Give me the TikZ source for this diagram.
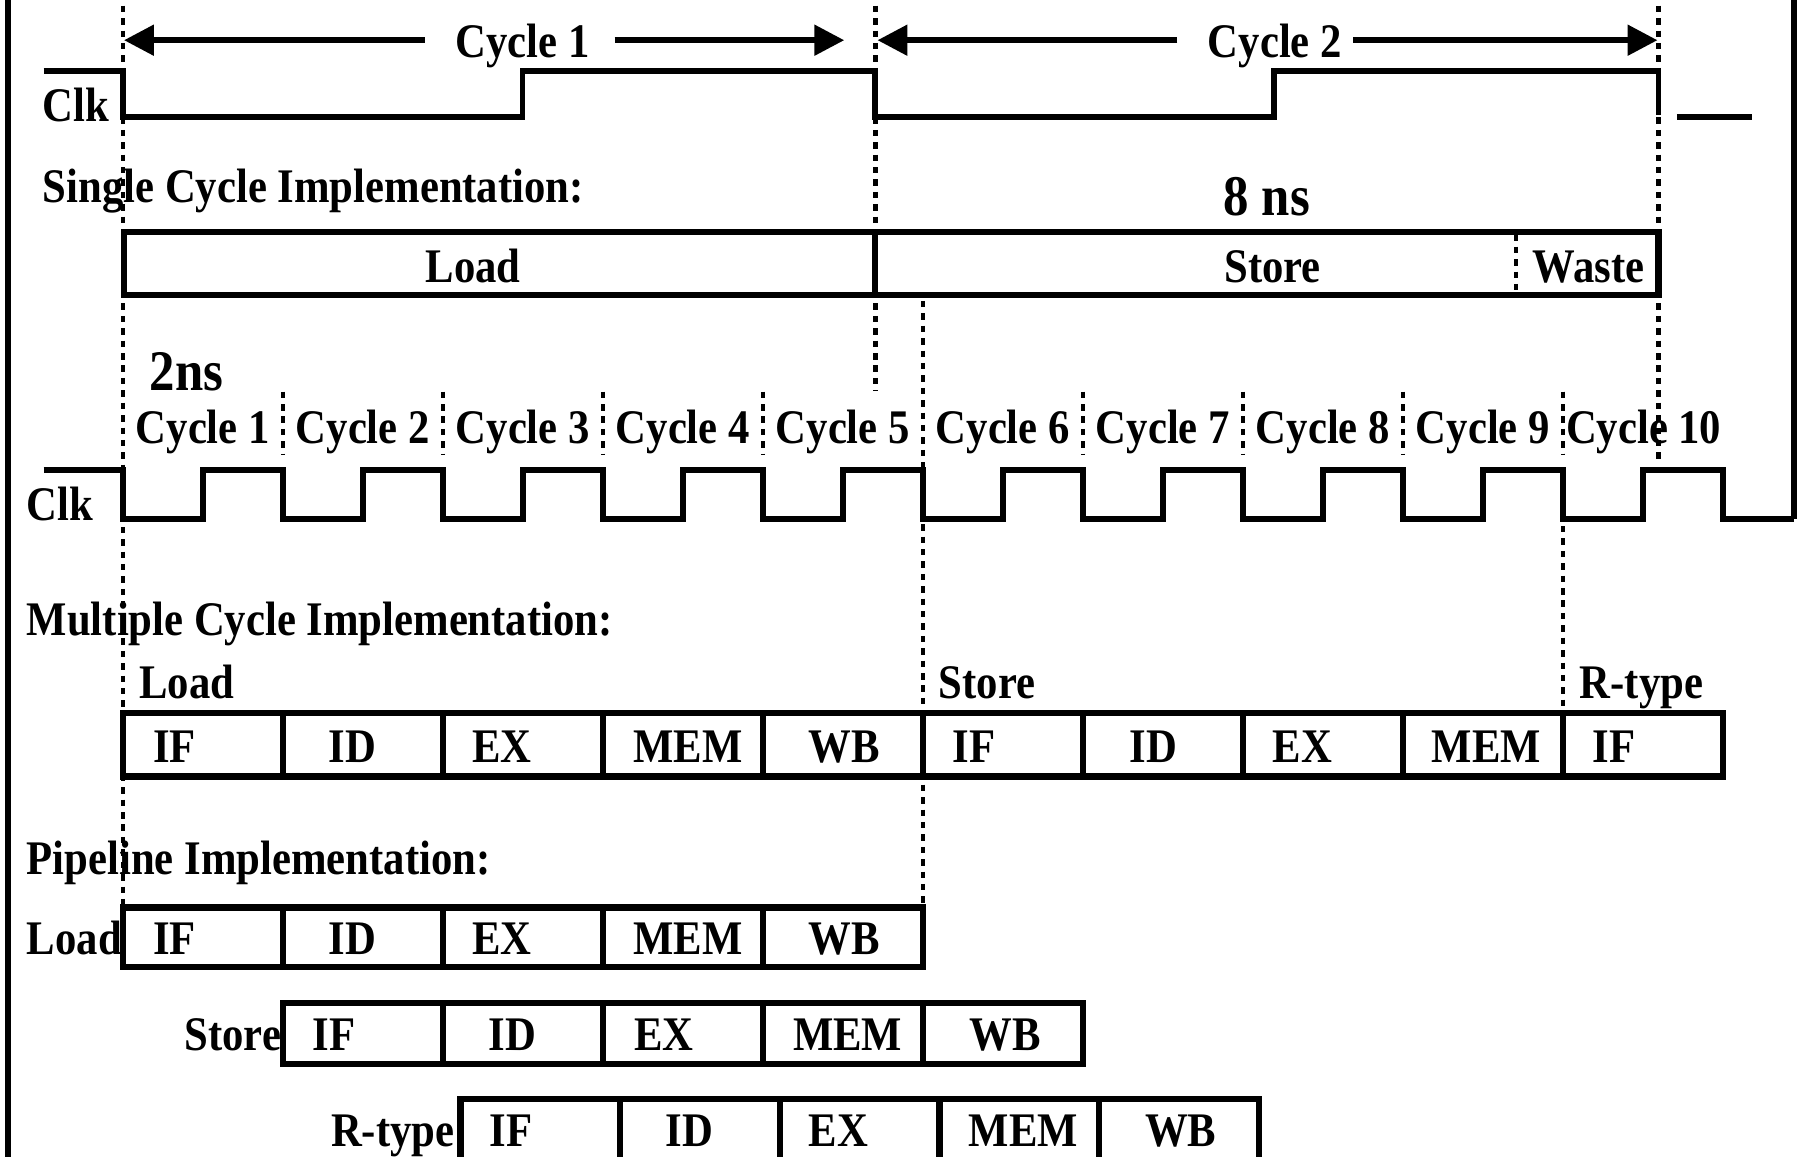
\documentclass[tikz,border=0pt]{standalone}
\usepackage{fontspec}
\setmainfont{Liberation Serif}[FakeStretch=0.885]
\usetikzlibrary{arrows.meta}
\begin{document}
\begin{tikzpicture}[x=0.5pt,y=-0.5pt,
  wave/.style={line width=2.4pt, line join=miter},
  box/.style={line width=2.7pt},
  dots/.style={line width=2pt, dash pattern=on 2.8pt off 2.6pt},
  arr/.style={line width=2.4pt, -{Triangle[length=13pt,width=13pt]}},
  lbl/.style={inner sep=0pt, font=\fontsize{21pt}{25pt}\selectfont\bfseries},
  big/.style={inner sep=0pt, font=\fontsize{25pt}{30pt}\selectfont\bfseries}]
\useasboundingbox (0,0) rectangle (1568,1007);
% borders
\draw[wave] (7,0) -- (7,1007);
\draw[wave] (1562,0) -- (1562,452);
% dotted guides
\draw[dots] (107,5) -- (107,790);
\draw[dots] (762,5) -- (762,340);
\draw[dots] (1444,5) -- (1444,400);
\draw[dots] (803.5,262) -- (803.5,790);
\draw[dots] (1360.7,458) -- (1360.7,618);
\foreach \k in {1,2,3,4,6,7,8,9} \draw[dots] ({107+139.3*\k},341) -- ({107+139.3*\k},396);
% top arrows
\coordinate (a1l) at (108,35); \coordinate (a1r) at (735,35);
\coordinate (a2l) at (764,35); \coordinate (a2r) at (1443,35);
\coordinate (c1w) at (370,35); \coordinate (c1e) at (535,35);
\coordinate (c2w) at (1025,35); \coordinate (c2e) at (1178,35);
\node[lbl, anchor=base] (cyc1) at (455,50) {Cycle 1};
\node[lbl, anchor=base] (cyc2) at (1110,50) {Cycle 2};
\draw[arr] (c1w) -- (a1l);
\draw[arr] (c1e) -- (a1r);
\draw[arr] (c2w) -- (a2l);
\draw[arr] (c2e) -- (a2r);
% top clock
\node[lbl, anchor=base west] (clk1) at (37,106) {Clk};
\draw[wave] (38,62) -- (107,62) -- (107,102) -- (455,102) -- (455,62) -- (762,62) -- (762,102)
  -- (1109,102) -- (1109,62) -- (1444,62) -- (1444,100);
\draw[wave] (1460,102) -- (1525,102);
% single cycle
\node[lbl, anchor=base west] (single) at (37,176) {Single Cycle Implementation:};
\node[big, anchor=base] (eightns) at (1103,188) {8 ns};
\draw[box] (108,202) rectangle (1444,257);
\draw[box] (762,202) -- (762,257);
\draw[dots] (1320,204) -- (1320,255);
\node[lbl, anchor=base] (sload) at (412,246) {Load};
\node[lbl, anchor=base] (sstore) at (1108,246) {Store};
\node[lbl, anchor=base] (swaste) at (1383,246) {Waste};
% multi-cycle clock
\node[big, anchor=base west] (twons) at (130,340) {2ns};
\foreach \k/\n in {0/1,1/2,2/3,3/4,4/5,5/6,6/7,7/8,8/9}
  \node[lbl, anchor=base] (cl\n) at ({176.6+139.3*\k},386) {Cycle \n};
\node[lbl, anchor=base west] (cl10) at (1363,386) {Cycle 10};
\draw[dots] (1360.7,341) -- (1360.7,396);
\node[lbl, anchor=base west] (clk2) at (23,453) {Clk};
\draw[wave] (38,409) foreach \k in {0,...,9} { -- ({107+139.3*\k},409) -- ({107+139.3*\k},452)
  -- ({176.65+139.3*\k},452) -- ({176.65+139.3*\k},409) } -- (1500,409) -- (1500,452) -- (1562,452);
% multiple cycle implementation
\node[lbl, anchor=base west] (multi) at (23,553) {Multiple Cycle Implementation:};
\node[lbl, anchor=base west] (mload) at (121,608) {Load};
\node[lbl, anchor=base west] (mstore) at (817,608) {Store};
\node[lbl, anchor=base west] (mrtype) at (1375,608) {R-type};
\draw[box] (107,621) rectangle (1500,676);
\foreach \k in {1,...,9} \draw[box] ({107+139.3*\k},621) -- ({107+139.3*\k},676);
\foreach \t/\x/\n in {IF/152/1,ID/307/2,EX/437/3,MEM/599/4,WB/735/5,IF/848/6,ID/1004/7,EX/1134/8,MEM/1294/9,IF/1405/10}
  \node[lbl, anchor=base] (m\n) at (\x,664) {\t};
% pipeline
\node[lbl, anchor=base west] (pipe) at (23,761) {Pipeline Implementation:};
\node[lbl, anchor=base west] (pload) at (23,831) {Load};
\draw[box] (107,790) rectangle (803.5,842);
\foreach \k in {1,...,4} \draw[box] ({107+139.3*\k},790) -- ({107+139.3*\k},842);
\foreach \t/\x/\n in {IF/152/1,ID/307/2,EX/437/3,MEM/599/4,WB/735/5}
  \node[lbl, anchor=base] (pl\n) at (\x,831) {\t};
\node[lbl, anchor=base east] (pstore) at (245,915) {Store};
\draw[box] (246.3,873) rectangle (942.8,926);
\foreach \k in {2,...,5} \draw[box] ({107+139.3*\k},873) -- ({107+139.3*\k},926);
\foreach \t/\x/\n in {IF/291/1,ID/446/2,EX/578/3,MEM/738/4,WB/875/5}
  \node[lbl, anchor=base] (ps\n) at (\x,915) {\t};
\node[lbl, anchor=base east] (prtype) at (396,998) {R-type};
\draw[box] (401,957) rectangle (1096,1015);
\foreach \k in {1,...,4} \draw[box] ({401+139*\k},957) -- ({401+139*\k},1015);
\foreach \t/\x/\n in {IF/445/1,ID/600/2,EX/730/3,MEM/891/4,WB/1028/5}
  \node[lbl, anchor=base] (pr\n) at (\x,998) {\t};
\end{tikzpicture}
\end{document}
